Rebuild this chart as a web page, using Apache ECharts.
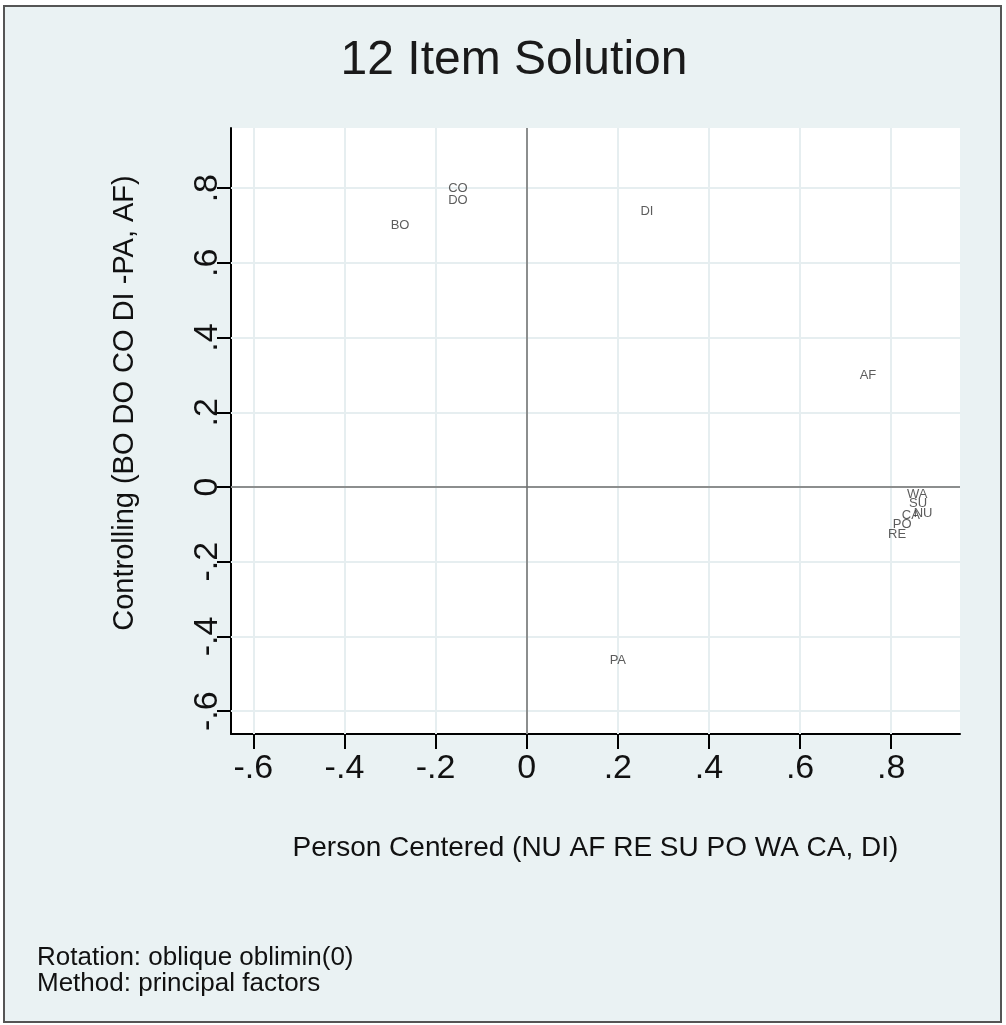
<!DOCTYPE html>
<html>
<head>
<meta charset="utf-8">
<script src="https://cdn.jsdelivr.net/npm/echarts@6/dist/echarts.min.js"></script>
<style>
html,body{margin:0;padding:0;background:#ffffff;}
#chart{width:1006px;height:1025px;}
</style>
</head>
<body>
<div id="chart"></div>
<script>
// ---- data ----
var itemLabels = ['CO','DO','BO','DI','AF','PA','WA','SU','NU','CA','PO','RE'];
var factor1 = [-0.151,-0.151,-0.278,0.264,0.749,0.200,0.857,0.859,0.870,0.843,0.824,0.813];
var factor2 = [0.800,0.766,0.701,0.739,0.300,-0.463,-0.019,-0.043,-0.070,-0.075,-0.099,-0.126];
var xTicks = [-0.6,-0.4,-0.2,0,0.2,0.4,0.6,0.8];
var xTickLabels = ['-.6','-.4','-.2','0','.2','.4','.6','.8'];
var yTicks = [-0.6,-0.4,-0.2,0,0.2,0.4,0.6,0.8];
var yTickLabels = ['-.6','-.4','-.2','0','.2','.4','.6','.8'];
var titleText = '12 Item Solution';
var xTitle = 'Person Centered (NU AF RE SU PO WA CA, DI)';
var yTitle = 'Controlling (BO DO CO DI -PA, AF)';
var noteLines = ['Rotation: oblique oblimin(0)', 'Method: principal factors'];

var FONT = '"Liberation Sans", Arial, sans-serif';
function fmt(ticks, labels){
  return function(v){
    for (var i=0;i<ticks.length;i++){ if (Math.abs(ticks[i]-v)<1e-9) return labels[i]; }
    return '';
  };
}
var points = itemLabels.map(function(n,i){ return {name:n, value:[factor1[i], factor2[i]]}; });

var gridLineStyle = {color:'#e6eef0', width:2, type:'solid'};
var gridMarks = [];
xTicks.forEach(function(v){ gridMarks.push({xAxis:v, lineStyle:gridLineStyle}); });
yTicks.forEach(function(v){ gridMarks.push({yAxis:v, lineStyle:gridLineStyle}); });
var zeroStyle = {color:'#6e6e6e', width:1.5, type:'solid'};
var zeroMarks = [{xAxis:0, lineStyle:zeroStyle},{yAxis:0, lineStyle:zeroStyle}];

var chart = echarts.init(document.getElementById('chart'), null, {renderer:'canvas'});
chart.setOption({
  backgroundColor: '#ffffff',
  animation: false,
  textStyle: {fontFamily: FONT},
  graphic: [
    {type:'rect', z:-10, shape:{x:4, y:6, width:997, height:1016},
     style:{fill:'#eaf2f3', stroke:'#555555', lineWidth:2}},
    {type:'text', x:514, y:61,
     style:{text:titleText, font:'48px ' + FONT, fill:'#1a1a1a', textAlign:'center', textVerticalAlign:'middle'}},
    {type:'text', x:125, y:403, rotation:Math.PI/2,
     style:{text:yTitle, font:'29px ' + FONT, fill:'#111111', textAlign:'center', textVerticalAlign:'middle'}},
    {type:'text', x:37, y:958,
     style:{text:noteLines[0], font:'26px ' + FONT, fill:'#111111', textAlign:'left', textVerticalAlign:'middle'}},
    {type:'text', x:37, y:984,
     style:{text:noteLines[1], font:'26px ' + FONT, fill:'#111111', textAlign:'left', textVerticalAlign:'middle'}}
  ],
  grid: {left:231, top:128, width:729, height:606, show:true, backgroundColor:'#ffffff', borderWidth:0, containLabel:false},
  xAxis: {
    type:'value', min:-0.649, max:0.951,
    name: xTitle, nameLocation:'middle', nameGap:100,
    nameTextStyle:{fontSize:28, color:'#111111', fontFamily:FONT},
    axisLine:{show:true, onZero:false, lineStyle:{color:'#000000', width:2}},
    axisTick:{show:true, length:15, lineStyle:{color:'#000000', width:2}, customValues:xTicks},
    axisLabel:{show:true, customValues:xTicks, formatter:fmt(xTicks,xTickLabels), fontSize:34, color:'#111111', margin:18, fontFamily:FONT},
    splitLine:{show:false}
  },
  yAxis: {
    type:'value', min:-0.661, max:0.961,
    axisLine:{show:true, onZero:false, lineStyle:{color:'#000000', width:2}},
    axisTick:{show:true, length:14, lineStyle:{color:'#000000', width:2}, customValues:yTicks},
    axisLabel:{show:true, customValues:yTicks, formatter:fmt(yTicks,yTickLabels), rotate:90, fontSize:34, color:'#111111', margin:6, fontFamily:FONT},
    splitLine:{show:false}
  },
  series: [
    {type:'line', data:[], silent:true,
     markLine:{silent:true, symbol:['none','none'], label:{show:false}, data:gridMarks, z:1}},
    {type:'line', data:[], silent:true,
     markLine:{silent:true, symbol:['none','none'], label:{show:false}, data:zeroMarks, z:2}},
    {type:'scatter', data:points, symbol:'circle', symbolSize:1,
     itemStyle:{color:'rgba(0,0,0,0)'},
     label:{show:true, position:'inside', formatter:'{b}', fontSize:13, color:'#333333', fontFamily:FONT},
     z:5}
  ]
});
</script>
</body>
</html>
